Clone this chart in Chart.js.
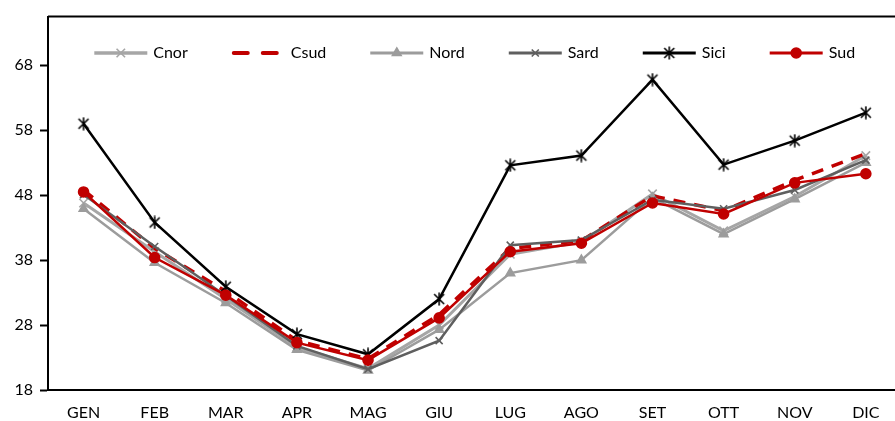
<!DOCTYPE html>
<html>
<head>
<meta charset="utf-8">
<script src="https://cdn.jsdelivr.net/npm/chart.js@4.4.1/dist/chart.umd.min.js"></script>
<style>
  html, body { margin: 0; padding: 0; background: #fff; overflow: hidden; }
  #wrap { width: 910px; height: 421px; }
</style>
</head>
<body>
<div id="wrap"><canvas id="lineChart"></canvas></div>
<script>
const months = ['GEN', 'FEB', 'MAR', 'APR', 'MAG', 'GIU', 'LUG', 'AGO', 'SET', 'OTT', 'NOV', 'DIC'];
const cnor = [46.8, 39.3, 32.0, 24.6, 21.3, 28.0, 38.9, 40.8, 48.2, 42.5, 47.8, 54.1];
const csud = [48.8, 39.8, 33.2, 25.6, 22.8, 29.6, 39.8, 41.0, 47.9, 45.6, 50.3, 54.4];
const nord = [45.9, 37.6, 31.4, 24.2, 21.0, 27.3, 36.0, 38.0, 47.6, 42.0, 47.4, 53.0];
const sard = [48.1, 40.1, 32.5, 24.8, 21.2, 25.6, 40.3, 41.1, 47.3, 45.9, 48.8, 53.4];
const sici = [59.0, 43.8, 33.9, 26.6, 23.5, 32.0, 52.6, 54.1, 65.8, 52.7, 56.4, 60.7];
const sud = [48.5, 38.4, 32.6, 25.3, 22.6, 29.1, 39.3, 40.6, 46.8, 45.1, 49.9, 51.3];
const yTicks = [18, 28, 38, 48, 58, 68];

const FONT = 'Lato, "Open Sans", sans-serif';

// excel-like star marker: an x with a vertical stroke
function makeStar(color) {
    const c = document.createElement('canvas');
    c.width = 14; c.height = 14;
    const g = c.getContext('2d');
    g.strokeStyle = color;
    g.lineWidth = 1.6;
    g.beginPath();
    g.moveTo(2, 2); g.lineTo(12, 12);
    g.moveTo(12, 2); g.lineTo(2, 12);
    g.moveTo(7, 0.5); g.lineTo(7, 13.5);
    g.stroke();
    return c;
}

function series(label, data, color, width, style, radius, order, dash) {
    return {
        label: label,
        data: data,
        borderColor: color,
        backgroundColor: color,
        borderWidth: width,
        borderDash: dash || [],
        pointStyle: style,
        pointRadius: radius,
        pointBorderWidth: 1.6,
        pointBorderColor: color,
        pointBackgroundColor: color,
        tension: 0,
        order: order
    };
}

// legend drawn inside the plot, line + marker like the original
const insideLegend = {
    id: 'insideLegend',
    afterDraw(chart) {
        const ctx = chart.ctx;
        const area = chart.chartArea;
        // top border of the plot
        ctx.save();
        ctx.strokeStyle = '#000';
        ctx.lineWidth = 2;
        ctx.beginPath();
        ctx.moveTo(area.left, area.top);
        ctx.lineTo(area.right, area.top);
        ctx.stroke();

        ctx.font = '16px ' + FONT;
        ctx.textBaseline = 'middle';
        const lineLen = 53, textGap = 6, itemGap = 44;
        const sets = chart.data.datasets;
        let total = 0;
        sets.forEach((ds, i) => {
            total += lineLen + textGap + ctx.measureText(ds.label).width;
            if (i < sets.length - 1) total += itemGap;
        });
        let x = (area.left + area.right) / 2 - total / 2;
        const y = 53;
        sets.forEach(ds => {
            ctx.save();
            ctx.strokeStyle = ds.borderColor;
            ctx.lineWidth = ds.borderWidth + 0.5;
            ctx.setLineDash(ds.borderDash.length ? [14, 15] : []);
            ctx.lineCap = ds.borderDash.length ? 'round' : 'butt';
            ctx.beginPath();
            ctx.moveTo(x + (ds.borderDash.length ? 2 : 0), y);
            ctx.lineTo(x + lineLen, y);
            ctx.stroke();
            ctx.restore();
            if (ds.pointRadius > 0 && Chart.helpers && Chart.helpers.drawPoint) {
                ctx.save();
                ctx.strokeStyle = ds.pointBorderColor;
                ctx.fillStyle = ds.pointBackgroundColor;
                ctx.lineWidth = ds.pointBorderWidth;
                ctx.setLineDash([]);
                Chart.helpers.drawPoint(ctx, {
                    pointStyle: ds.pointStyle,
                    radius: ds.pointRadius,
                    borderWidth: ds.pointBorderWidth,
                    rotation: 0
                }, x + lineLen / 2, y);
                ctx.restore();
            }
            ctx.fillStyle = '#000';
            ctx.fillText(ds.label, x + lineLen + textGap, y);
            x += lineLen + textGap + ctx.measureText(ds.label).width + itemGap;
        });
        ctx.restore();
    }
};

document.addEventListener('DOMContentLoaded', () => {
    const ctxt = document.getElementById('lineChart').getContext('2d');
    new Chart(ctxt, {
        type: 'line',
        data: {
            labels: months,
            datasets: [
                series('Cnor', cnor, '#A6A6A6', 3, 'crossRot', 6, 5),
                series('Csud', csud, '#C00000', 3.5, false, 0, 4, [12, 9]),
                series('Nord', nord, '#9C9C9C', 2.5, 'triangle', 5, 3),
                series('Sard', sard, '#5F5F5F', 2.5, 'crossRot', 5, 2),
                series('Sici', sici, '#000000', 2.5, makeStar('#000000'), 7, 1),
                series('Sud', sud, '#C00000', 2.5, 'circle', 5, 0)
            ]
        },
        options: {
            responsive: true,
            maintainAspectRatio: false,
            animation: false,
            layout: { padding: { top: 11, right: 4, left: 0, bottom: 0 } },
            plugins: {
                legend: { display: false },
                tooltip: { enabled: false }
            },
            scales: {
                x: {
                    offset: true,
                    grid: { display: false, drawTicks: false },
                    border: { display: true, color: '#000', width: 2 },
                    ticks: { color: '#000', padding: 13, font: { family: FONT, size: 16 }, maxRotation: 0 },
                    afterFit(scale) { scale.height = 31; }
                },
                y: {
                    min: 18,
                    max: 75.5,
                    grid: { drawOnChartArea: false, drawTicks: true, tickLength: 8, tickColor: '#000', tickWidth: 2 },
                    border: { display: true, color: '#000', width: 2 },
                    afterBuildTicks(scale) { scale.ticks = yTicks.map(v => ({ value: v })); },
                    ticks: { color: '#000', padding: 7, font: { family: FONT, size: 16 } },
                    afterFit(scale) { scale.width = 48; }
                }
            }
        },
        plugins: [insideLegend]
    });
});
</script>
</body>
</html>
